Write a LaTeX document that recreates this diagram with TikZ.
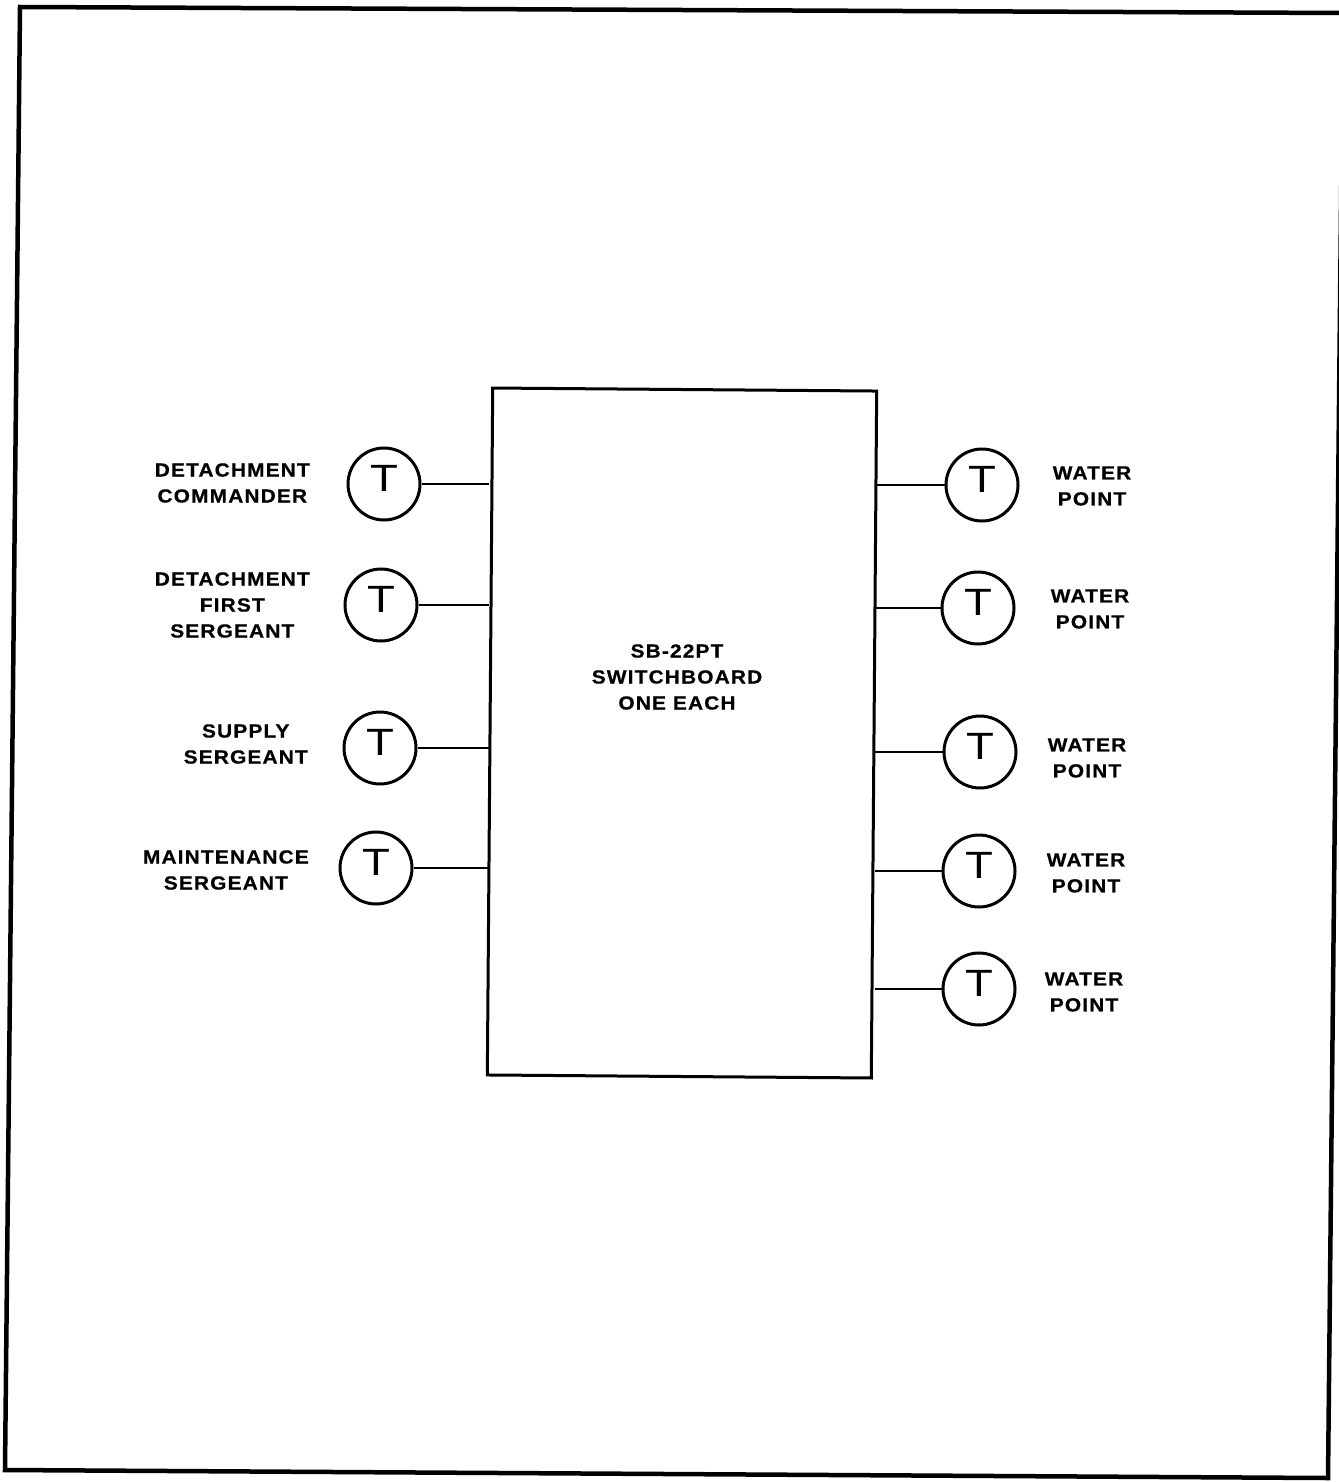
\documentclass[tikz,border=0pt]{standalone}
\usepackage{fontspec}
\setmainfont{Liberation Sans}
\newfontfamily\lblfont{Liberation Sans}[LetterSpace=6,FakeStretch=1.1,FakeBold=0.6]
\usepackage{graphicx}
\newcommand\phoneT{\raisebox{12pt}{\scalebox{1.2}[1]{T}}}
\begin{document}
\begin{tikzpicture}[x=1pt,y=-1pt,
  lbl/.style={font=\lblfont\bfseries\fontsize{19}{26}\selectfont, align=center, inner sep=0pt},
  phone/.style={circle, draw, line width=3pt, minimum size=72pt, inner sep=0pt, font=\fontsize{38}{38}\selectfont},
  wire/.style={line width=2pt},
  board/.style={draw, line width=3pt, minimum width=384pt, minimum height=687pt, inner sep=0pt, rotate=-0.45},
  frame/.style={line width=4.5pt, line join=miter}
]
\useasboundingbox (0,0) rectangle (1338,1482);
\draw[frame] (20,7) -- (1343,13) -- (1328,1478) -- (5,1470) -- cycle;

\node[board] (sb) at (682,733) {};
\node[lbl] (sbt) at (677,677) {SB-22PT\\SWITCHBOARD\\ONE EACH};

% left telephones
\node[phone] (p1) at (384,484) {\phoneT};
\node[phone] (p2) at (381,605) {\phoneT};
\node[phone] (p3) at (380,748) {\phoneT};
\node[phone] (p4) at (376,868) {\phoneT};

\node[lbl, anchor=east] (l1) at (310,483) {DETACHMENT\\COMMANDER};
\node[lbl, anchor=east] (l2) at (310,605) {DETACHMENT\\FIRST\\SERGEANT};
\node[lbl, anchor=east] (l3) at (308,744) {SUPPLY\\SERGEANT};
\node[lbl, anchor=east] (l4) at (309,870) {MAINTENANCE\\SERGEANT};

% right telephones
\node[phone] (w1) at (982,485) {\phoneT};
\node[phone] (w2) at (978,608) {\phoneT};
\node[phone] (w3) at (980,752) {\phoneT};
\node[phone] (w4) at (979,871) {\phoneT};
\node[phone] (w5) at (979,989) {\phoneT};

\node[lbl] (r1) at (1092,486) {WATER\\POINT};
\node[lbl] (r2) at (1090,609) {WATER\\POINT};
\node[lbl] (r3) at (1087,758) {WATER\\POINT};
\node[lbl] (r4) at (1086,873) {WATER\\POINT};
\node[lbl] (r5) at (1084,992) {WATER\\POINT};

% wires
\foreach \p in {p1,p2,p3,p4} \draw[wire] (\p) -- (\p -| sb.west);
\foreach \w in {w1,w2,w3,w4,w5} \draw[wire] (\w) -- (\w -| sb.east);
\end{tikzpicture}
\end{document}
